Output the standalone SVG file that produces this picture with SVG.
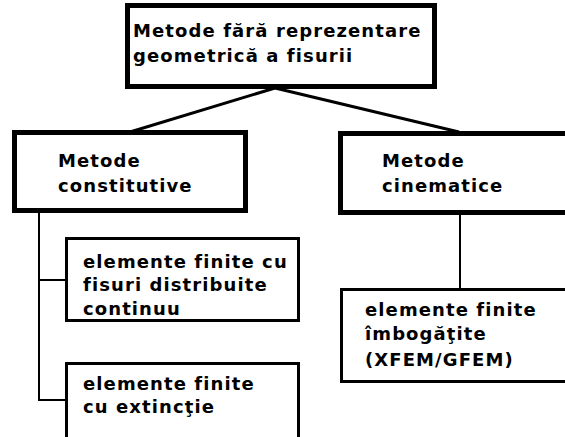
<svg xmlns="http://www.w3.org/2000/svg" width="565" height="437" viewBox="0 0 565 437">
<style>
.t{font-family:"DejaVu Sans","Verdana",sans-serif;font-weight:bold;font-size:18px;letter-spacing:1.1px;fill:#000}
.thick{fill:#fff;stroke:#000;stroke-width:5}
.thin{fill:#fff;stroke:#000;stroke-width:3}
.c{stroke:#000;fill:none}
</style>
<rect width="565" height="437" fill="#fff"/>
<g id="connectors">
<line class="c" x1="275" y1="88" x2="130" y2="132" stroke-width="3"/>
<line class="c" x1="275" y1="88" x2="459" y2="132" stroke-width="3"/>
<line class="c" x1="460" y1="214" x2="460" y2="289" stroke-width="2"/>
<polyline class="c" points="39,213 39,400 66,400" stroke-width="2"/>
<line class="c" x1="39" y1="280" x2="66" y2="280" stroke-width="2"/>
</g>
<g id="top">
<rect class="thick" x="127.5" y="5.5" width="307" height="81"/>
<text class="t" x="133" y="37">Metode fără reprezentare</text>
<text class="t" x="133" y="62">geometrică a fisurii</text>
</g>
<g id="constitutive">
<rect class="thick" x="14.5" y="132.5" width="231" height="78"/>
<text class="t" x="58" y="167">Metode</text>
<text class="t" x="58" y="192">constitutive</text>
</g>
<g id="cinematice">
<rect class="thick" x="340.5" y="133.5" width="240" height="79"/>
<text class="t" x="382" y="167">Metode</text>
<text class="t" x="382" y="192">cinematice</text>
</g>
<g id="distribuite">
<rect class="thin" x="66.5" y="238.5" width="232" height="82"/>
<text class="t" x="83" y="268">elemente finite cu</text>
<text class="t" x="83" y="291">fisuri distribuite</text>
<text class="t" x="83" y="315">continuu</text>
</g>
<g id="extinctie">
<rect class="thin" x="66.5" y="363.5" width="232" height="90"/>
<text class="t" x="83" y="390">elemente finite</text>
<text class="t" x="83" y="413">cu extincţie</text>
</g>
<g id="imbogatite">
<rect class="thin" x="341.5" y="289.5" width="240" height="92"/>
<text class="t" x="365" y="316">elemente finite</text>
<text class="t" x="365" y="340">îmbogăţite</text>
<text class="t" x="365" y="366">(XFEM/GFEM)</text>
</g>
</svg>
